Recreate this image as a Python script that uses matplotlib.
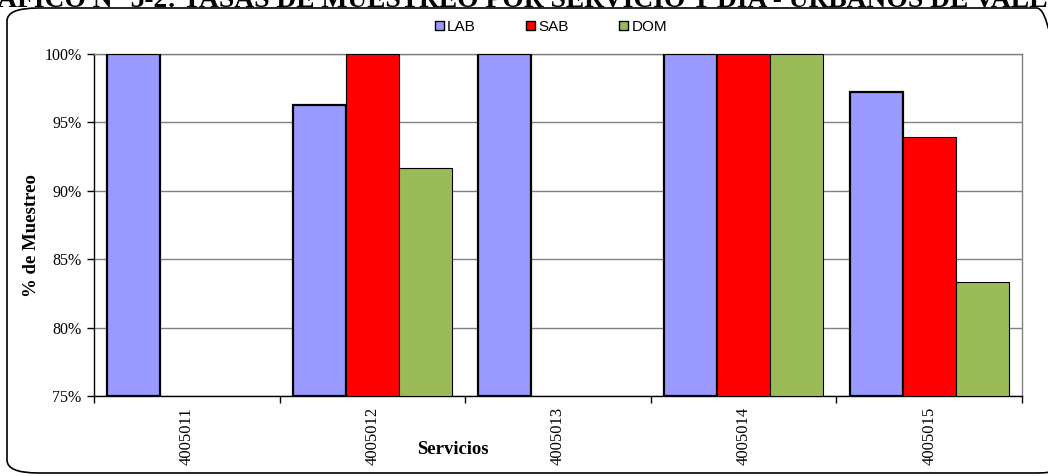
import numpy as np
import matplotlib
matplotlib.use("Agg")
import matplotlib.pyplot as plt
from matplotlib.patches import FancyBboxPatch, Patch
from matplotlib.ticker import FixedLocator, PercentFormatter

categories = ["4005011", "4005012", "4005013", "4005014", "4005015"]
lab = [100.0, 96.3, 100.0, 100.0, 97.2]
sab = [np.nan, 100.0, np.nan, 100.0, 93.9]
dom = [np.nan, 91.7, np.nan, 100.0, 83.3]
series_names = ["LAB", "SAB", "DOM"]
colors = ["#9999FF", "#FF0000", "#9BBB59"]
yticks = [75, 80, 85, 90, 95, 100]
title = "GRÁFICO N° 5-2: TASAS DE MUESTREO POR SERVICIO Y DÍA - URBANOS DE VALLE"

serif = ["Liberation Serif", "DejaVu Serif"]
sans = ["Liberation Sans", "DejaVu Sans"]

fig = plt.figure(figsize=(10.48, 4.76), dpi=100)
ax = fig.add_axes([94/1048, 1-396/476, (1022-94)/1048, (396-54)/476])

# outer rounded border
border = FancyBboxPatch((7/1048, 3/476), (1068-7)/1048, (468-3)/476,
                        boxstyle="round,pad=0,rounding_size=0.03",
                        transform=fig.transFigure, fill=False,
                        edgecolor="black", linewidth=1.2, zorder=-5,
                        mutation_aspect=476/1048*2)
fig.patches.append(border)

fig.text(-44/1048, 1-7/476, title, ha="left", va="baseline",
         family=serif, fontweight="bold", fontsize=19.8)

x = np.arange(len(categories))
w = 1/3.5
for i, (vals, c) in enumerate(zip([lab, sab, dom], colors)):
    lw = 1.6 if i == 0 else 0.8
    base = 75
    heights = [v - base if not np.isnan(v) else np.nan for v in vals]
    ax.bar(x + (i-1)*w, heights, width=w, bottom=base, color=c,
           edgecolor="black", linewidth=lw, zorder=3)

ax.set_xlim(-0.5, len(categories)-0.5)
ax.set_ylim(75, 100)
ax.yaxis.set_major_locator(FixedLocator(yticks))
ax.yaxis.set_major_formatter(PercentFormatter(decimals=0))
ax.grid(axis="y", color="#808080", linewidth=1.0, zorder=0)
ax.set_axisbelow(True)

ax.set_xticks(x)
ax.set_xticklabels(categories, rotation=90, family=serif, fontsize=12)
ax.xaxis.set_minor_locator(FixedLocator(np.arange(-0.5, len(categories), 1)))
ax.tick_params(axis="x", which="major", length=0, pad=8)
ax.tick_params(axis="x", which="minor", length=5, width=1, direction="out")
ax.tick_params(axis="y", length=5, width=1, direction="out", labelsize=11.5, pad=4)
for lbl in ax.get_yticklabels():
    lbl.set_family(serif)

for s in ["top", "right"]:
    ax.spines[s].set_color("#808080")
    ax.spines[s].set_linewidth(1.0)
for s in ["left", "bottom"]:
    ax.spines[s].set_color("black")
    ax.spines[s].set_linewidth(1.0)

fig.text(32/1048, 1-236/476, "% de Muestreo", rotation=90, ha="center", va="center",
         family=serif, fontweight="bold", fontsize=13.5)
fig.text(453/1048, 1-450/476, "Servicios", ha="center", va="center",
         family=serif, fontweight="bold", fontsize=13.5)

handles = [Patch(facecolor=c, edgecolor="black", linewidth=1.0) for c in colors]
fig.legend(handles, series_names, loc="center", bbox_to_anchor=(551/1048, 1-27/476),
           ncol=3, frameon=False, prop={"family": sans, "size": 11},
           handlelength=0.6, handleheight=0.6, handletextpad=0.2, columnspacing=3.3)

fig.savefig("out.png", dpi=100)
